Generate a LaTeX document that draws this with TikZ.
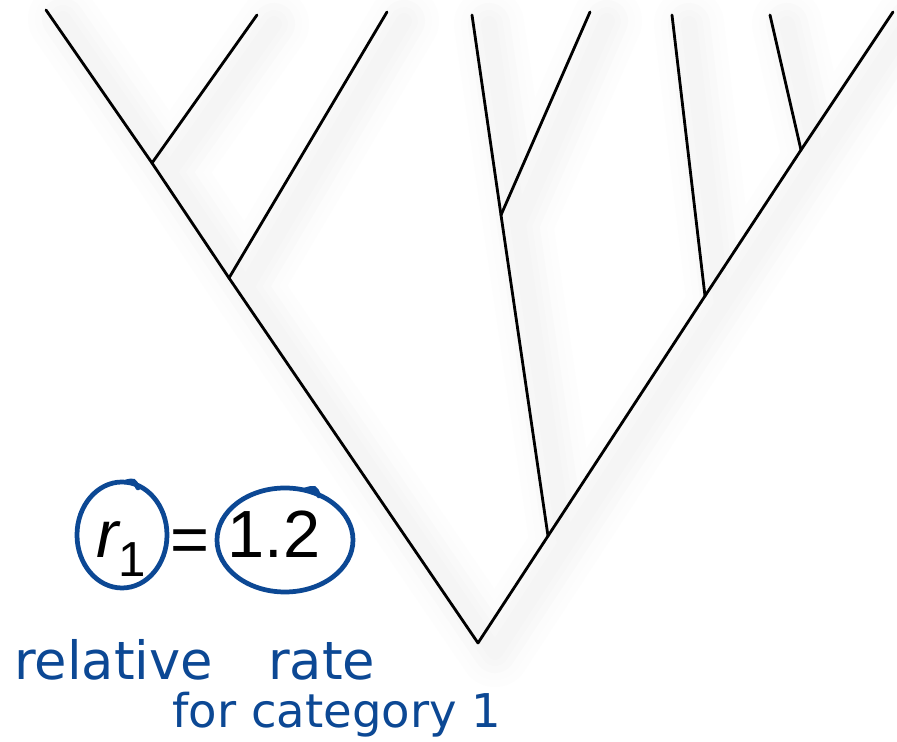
\documentclass[tikz,border=0pt]{standalone}
\usepackage{fontspec}
\setmainfont{Liberation Sans}
\newfontfamily\handfont{DejaVu Sans}
\usetikzlibrary{calc}
\definecolor{inkblue}{RGB}{12, 72, 148}
\definecolor{halogray}{RGB}{110, 110, 110}

\begin{document}
\begin{tikzpicture}[
    x=0.02cm, y=-0.02cm,
    branch/.style={line width=1.6pt, black, line cap=round},
    halo/.style={halogray, line cap=round, line join=round},
    ring/.style={draw=inkblue, line width=2.7pt, line cap=round},
    bigtext/.style={font=\fontsize{38}{38}\selectfont, inner sep=0pt, anchor=base west},
    hand/.style={text=inkblue, inner sep=0pt, anchor=base west}
]

% Rahmen
\useasboundingbox (0,0) rectangle (897,742);

% Knoten des Baums
\coordinate (root) at (478,643);
\coordinate (L1) at (229,278);
\coordinate (L2) at (152,163);
\coordinate (R1) at (548,536);
\coordinate (M1) at (501,215);
\coordinate (R2) at (705,296);
\coordinate (R3) at (801,150);

% Blaetter
\coordinate (leafA) at (46,10);
\coordinate (leafB) at (257,15);
\coordinate (leafC) at (387,12);
\coordinate (leafD) at (472,15);
\coordinate (leafE) at (590,12);
\coordinate (leafF) at (672,15);
\coordinate (leafG) at (770,15);
\coordinate (leafH) at (893,12);

\def\edges{root/L1, L1/L2, L2/leafA, L2/leafB, L1/leafC, root/R1, R1/M1, M1/leafD, M1/leafE, R1/R2, R2/leafF, R2/R3, R3/leafG, R3/leafH}

% Schatten
\foreach \w/\o in {40/0.01, 32/0.012, 24/0.014, 16/0.016, 9/0.016} {
  \draw[halo, line width=\w pt, opacity=\o]
    \foreach \p/\q in \edges { ([shift={(17,9)}]\p) -- ([shift={(17,9)}]\q) };
}

% Aeste
\foreach \p/\q in \edges {
  \draw[branch] (\p) -- (\q);
}

% Gleichung
\node[bigtext] (rsym) at (96,558) {\itshape r\upshape\raisebox{-0.38cm}{\fontsize{28}{28}\selectfont 1}};
\node[bigtext] (eq) at (170,563) {=};
\node[bigtext] (val) at (227,558) {1.2};

% Kringel
\coordinate (rc) at (122,535);
\coordinate (vc) at (285,540);
\draw[ring] (rc) ellipse [x radius=45, y radius=53];
\draw[ring] (vc) ellipse [x radius=68, y radius=52];
\draw[ring] ($(rc)+(4,-53)$) .. controls ($(rc)+(12,-55)$) .. ($(rc)+(16,-47)$);
\draw[ring] ($(vc)+(20,-50)$) .. controls ($(vc)+(30,-53)$) .. ($(vc)+(34,-44)$);

% Notiz
\node[hand, font=\handfont\fontsize{30}{30}\selectfont] (note1) at (14,680) {relative\hspace{1.1cm}rate};
\node[hand, font=\handfont\fontsize{26.5}{26.5}\selectfont] (note2) at (172,728) {for category 1};

\end{tikzpicture}
\end{document}
